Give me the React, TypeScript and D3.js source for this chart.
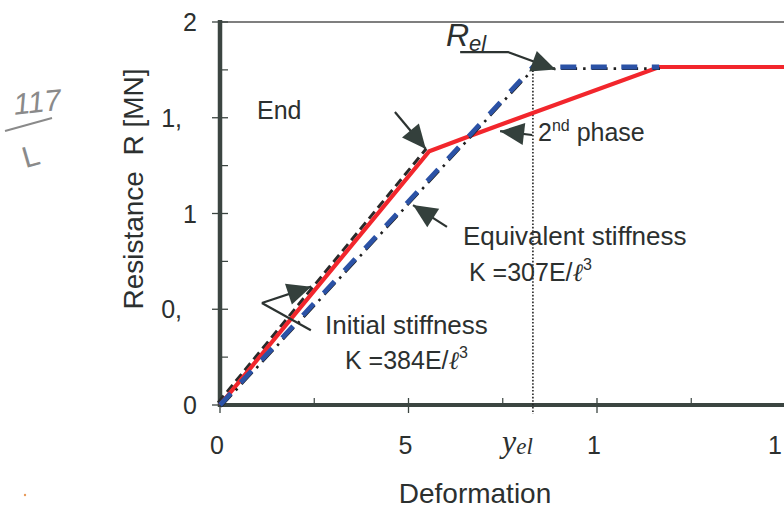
import React from 'react';
import * as d3 from 'd3';

// Axis ticks and their printed labels
const xTicks = [0, 5, 10, 15];
const xTickLabels = ['0', '5', '1', '1'];
const xMinorTicks = [2.5, 7.5, 12.5];
const yTicks = [0, 0.5, 1, 1.5, 2];
const yTickLabels = ['0', '0,', '1', '1,', '2'];
const yMinorTicks = [0.25, 0.75, 1.25, 1.75];

// Actual (two-phase) response
const actualDef = [0, 5.55, 6.7, 11.65, 15.3];
const actualRes = [0, 1.325, 1.41, 1.765, 1.765];

// Equivalent elastic–plastic idealisation
const equivDef = [0, 8.3, 11.65];
const equivRes = [0, 1.765, 1.765];

// Initial stiffness line
const initDef = [-0.05, 5.47];
const initRes = [0.012, 1.338];

// Elastic limit
const yEl = 8.3;
const rEl = 1.765;

const W = 784;
const H = 509;
const FONT = '"Liberation Sans", Arial, Helvetica, sans-serif';
const INK = '#2c302f';
const AXIS = '#3b4541';
const RED = '#f2262c';
const BLUE = '#2b52a6';

const x = d3.scaleLinear().domain([0, 15]).range([220, 785.5]);
const y = d3.scaleLinear().domain([0, 2]).range([405, 22]);

const zip = (xs: number[], ys: number[]) => xs.map((v, i) => [v, ys[i]] as [number, number]);
const line = d3
  .line<[number, number]>()
  .x((d) => x(d[0]))
  .y((d) => y(d[1]));

// Filled triangular arrowhead at the end of a segment (pixel space)
function head(fx: number, fy: number, tx: number, ty: number, len = 24, half = 11) {
  const dx = tx - fx;
  const dy = ty - fy;
  const n = Math.hypot(dx, dy);
  const ux = dx / n;
  const uy = dy / n;
  const bx = tx - ux * len;
  const by = ty - uy * len;
  return `M${tx},${ty}L${bx - uy * half},${by + ux * half}L${bx + uy * half},${by - ux * half}Z`;
}

function Arrow({ pts, headed = true }: { pts: [number, number][]; headed?: boolean }) {
  const px = pts.map((p) => [x(p[0]), y(p[1])] as [number, number]);
  const n = px.length;
  const [fx, fy] = px[n - 2];
  const [tx, ty] = px[n - 1];
  return (
    <g>
      <path d={d3.line()(px) ?? ''} fill="none" stroke="#2c3331" strokeWidth={2.2} />
      {headed && <path d={head(fx, fy, tx, ty)} fill="#34403c" />}
    </g>
  );
}

// Annotation arrows in data units
const kinkArrow: [number, number][] = [[4.64, 1.53], [5.46, 1.337]];
const relArrow: [number, number][] = [[6.37, 1.843], [7.64, 1.843], [8.9, 1.752]];
const phaseArrow: [number, number][] = [[8.28, 1.41], [7.43, 1.43]];
const equivArrow: [number, number][] = [[6.02, 0.93], [5.12, 1.044]];
const initArrowUp: [number, number][] = [[1.11, 0.533], [2.42, 0.618]];
const initArrowDown: [number, number][] = [[1.11, 0.533], [2.41, 0.39]];

export default function App() {
  const actual = zip(actualDef, actualRes);
  const equiv = zip(equivDef, equivRes);
  const init = zip(initDef, initRes);

  return (
    <svg
      width={W}
      height={H}
      viewBox={`0 0 ${W} ${H}`}
      style={{ position: 'absolute', left: 0, top: 0, background: '#fff' }}
      fontFamily={FONT}
    >
      {/* handwritten margin note */}
      <g fill="#8a8a8a" stroke="none">
        <text x={13} y={113} fontSize={30} fontWeight={300} fontStyle="italic" transform="rotate(-6 30 100)">
          117
        </text>
        <text x={22} y={166} fontSize={30} fontWeight={300} transform="rotate(-16 32 155)">
          L
        </text>
      </g>
      <path d="M5,131 L52,118" stroke="#8a8a8a" strokeWidth={2} fill="none" />
      <circle cx={25} cy={495} r={1.2} fill="#e89a5a" />

      {/* frame */}
      <line x1={220} x2={784} y1={22} y2={22} stroke="#555" strokeWidth={1.5} />

      {/* y ticks */}
      {yTicks.map((t) => (
        <line key={`yt${t}`} x1={212} x2={228} y1={y(t)} y2={y(t)} stroke={AXIS} strokeWidth={1.3} />
      ))}
      {yMinorTicks.map((t) => (
        <line key={`ym${t}`} x1={220} x2={228} y1={y(t)} y2={y(t)} stroke={AXIS} strokeWidth={1.2} />
      ))}
      {yTicks.map((t, i) => (
        <text
          key={`yl${t}`}
          x={yTickLabels[i].endsWith(',') ? 182 : 197}
          y={y(t) + 9}
          fontSize={25}
          textAnchor="end"
          fill={INK}
        >
          {yTickLabels[i]}
        </text>
      ))}

      {/* x ticks */}
      {xTicks.map((t) => (
        <line key={`xt${t}`} x1={x(t)} x2={x(t)} y1={398} y2={413} stroke={AXIS} strokeWidth={1.3} />
      ))}
      {xMinorTicks.map((t) => (
        <line key={`xm${t}`} x1={x(t)} x2={x(t)} y1={398} y2={405} stroke={AXIS} strokeWidth={1.2} />
      ))}
      {xTicks.map((t, i) => (
        <text
          key={`xl${t}`}
          x={Math.min(x(t) - 3, 775)}
          y={454}
          fontSize={25}
          textAnchor="middle"
          fill={INK}
        >
          {xTickLabels[i]}
        </text>
      ))}

      {/* axis lines */}
      <line x1={220} x2={220} y1={20} y2={407} stroke={AXIS} strokeWidth={4.5} />
      <line x1={218} x2={784} y1={405} y2={405} stroke={AXIS} strokeWidth={4} />

      {/* elastic limit marker */}
      <line
        x1={x(yEl)}
        x2={x(yEl)}
        y1={y(rEl)}
        y2={414}
        stroke="#222"
        strokeWidth={1.6}
        strokeDasharray="1.6,1.8"
      />

      {/* initial stiffness (black dashed) */}
      <path d={line(init) ?? ''} fill="none" stroke="#2a2a2a" strokeWidth={3} strokeDasharray="9,5" />

      {/* actual response */}
      <path d={line(actual) ?? ''} fill="none" stroke={RED} strokeWidth={4.2} strokeLinejoin="miter" />

      {/* equivalent stiffness: black dash-dot with blue dashes on top */}
      <g transform="translate(0.8,1.6)">
        <path
          d={line(equiv) ?? ''}
          fill="none"
          stroke="#1e1e1e"
          strokeWidth={2.6}
          strokeDasharray="16,6,2.5,6"
        />
      </g>
      <path
        d={line(equiv) ?? ''}
        fill="none"
        stroke={BLUE}
        strokeWidth={4.8}
        strokeDasharray="16,14.5"
        strokeLinejoin="round"
      />

      {/* annotations */}
      <Arrow pts={kinkArrow} />
      <Arrow pts={relArrow} />
      <Arrow pts={phaseArrow} />
      <Arrow pts={equivArrow} />
      <Arrow pts={initArrowUp} />
      <Arrow pts={initArrowDown} headed={false} />

      <text x={257} y={119} fontSize={25} fill={INK}>
        End
      </text>

      <text x={446} y={46} fill={INK} fontStyle="italic">
        <tspan fontSize={32}>R</tspan>
        <tspan fontSize={22} dy={5}>
          el
        </tspan>
      </text>

      <text x={538} y={141} fontSize={25} fill={INK}>
        <tspan>2</tspan>
        <tspan fontSize={16} dy={-10}>
          nd
        </tspan>
        <tspan dy={10}> phase</tspan>
      </text>

      <text x={463} y={245} fontSize={26} fill={INK}>
        Equivalent stiffness
      </text>
      <text x={469} y={281} fontSize={25} fill={INK}>
        <tspan>K =307E/</tspan>
        <tspan fontFamily='"DejaVu Serif", serif' fontStyle="italic">
          ℓ
        </tspan>
        <tspan fontSize={16} dy={-11}>
          3
        </tspan>
      </text>

      <text x={325} y={334} fontSize={26} fill={INK}>
        Initial stiffness
      </text>
      <text x={345} y={369} fontSize={25} fill={INK}>
        <tspan>K =384E/</tspan>
        <tspan fontFamily='"DejaVu Serif", serif' fontStyle="italic">
          ℓ
        </tspan>
        <tspan fontSize={16} dy={-11}>
          3
        </tspan>
      </text>

      {/* elastic deformation label */}
      <text x={502} y={452} fill={INK} fontFamily='"Liberation Serif", "Times New Roman", serif' fontStyle="italic">
        <tspan fontSize={32}>y</tspan>
        <tspan fontSize={23} dy={2}>
          el
        </tspan>
      </text>

      {/* axis titles */}
      <text x={475} y={503} fontSize={28} textAnchor="middle" fill={INK}>
        Deformation
      </text>
      <text
        transform="translate(143,189) rotate(-90)"
        fontSize={28}
        textAnchor="middle"
        fill={INK}
        style={{ whiteSpace: 'pre' }}
      >
        {'Resistance  R [MN]'}
      </text>
    </svg>
  );
}
